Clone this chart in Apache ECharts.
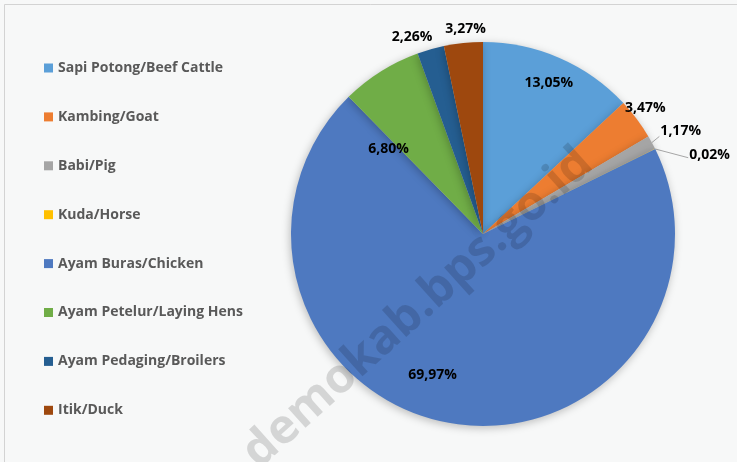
<!DOCTYPE html>
<html>
<head>
<meta charset="utf-8">
<script src="https://cdn.jsdelivr.net/npm/echarts@6/dist/echarts.min.js"></script>
<style>
html,body{margin:0;padding:0;background:#f7f8f8;}
#main{width:737px;height:462px;}
</style>
</head>
<body>
<div id="main"></div>
<script>
// ---- data ----
var categories = [
  'Sapi Potong/Beef Cattle',
  'Kambing/Goat',
  'Babi/Pig',
  'Kuda/Horse',
  'Ayam Buras/Chicken',
  'Ayam Petelur/Laying Hens',
  'Ayam Pedaging/Broilers',
  'Itik/Duck'
];
var shares = [13.05, 3.47, 1.17, 0.02, 69.97, 6.80, 2.26, 3.27];

// ---- style ----
var colors = ['#5b9fd8', '#ed7d31', '#a5a5a5', '#ffc000', '#4e79c0', '#70ad47', '#255e91', '#9e480e'];
// label placement: distance factor (of radius) and angular nudge (deg, clockwise)
var labelDist = [0.86, 1.07, 1.16, 1.25, 0.78, 0.66, 1.09, 1.07];
var labelNudge = [0, -1, 1, 7, 10, -16, -4, 1];
var showLeader = [false, false, true, true, false, false, false, false];

var chart = echarts.init(document.getElementById('main'));

function fmt(v) { return v.toFixed(2).replace('.', ',') + '%'; }

var pieData = categories.map(function (n, i) {
  return {
    name: n,
    value: shares[i],
    itemStyle: { color: colors[i] },
    labelLine: { show: showLeader[i] }
  };
});

var option = {
  backgroundColor: '#f7f8f8',
  animation: false,
  legend: {
    orient: 'vertical',
    left: 39,
    top: 55,
    icon: 'rect',
    itemWidth: 9,
    itemHeight: 9,
    itemGap: 32.9,
    textStyle: {
      fontFamily: 'Open Sans',
      fontWeight: 'bold',
      fontSize: 14,
      color: '#595959',
      lineHeight: 16
    },
    data: categories
  },
  graphic: [
    {
      type: 'polyline',
      silent: true,
      shape: { points: [[4.5, 462], [4.5, 4.5], [737, 4.5]] },
      style: { stroke: '#d3d3d3', lineWidth: 1, fill: null },
      z: 0
    },
    {
      type: 'text',
      silent: true,
      x: 418,
      y: 308,
      rotation: 42 * Math.PI / 180,
      style: {
        text: 'demokab.bps.go.id',
        font: 'bold 48px "Open Sans"',
        fill: 'rgba(0,0,0,0.14)',
        textAlign: 'center',
        textVerticalAlign: 'middle'
      },
      z: 100
    }
  ],
  series: [{
    type: 'pie',
    center: [483, 234],
    radius: 192,
    startAngle: 90,
    clockwise: true,
    avoidLabelOverlap: false,
    itemStyle: {
      borderWidth: 0,
      shadowBlur: 8,
      shadowColor: 'rgba(0,0,0,0.25)',
      shadowOffsetX: -1,
      shadowOffsetY: 2
    },
    emphasis: { disabled: true },
    label: {
      show: true,
      position: 'outside',
      formatter: function (p) { return fmt(p.value); },
      fontFamily: 'Open Sans',
      fontWeight: 'bold',
      fontSize: 14,
      color: '#000000'
    },
    labelLine: {
      length: 8,
      length2: 8,
      lineStyle: { color: '#a6a6a6', width: 1 }
    },
    labelLayout: function (p) {
      var i = p.dataIndex;
      var L = null;
      try {
        L = chart.getModel().getSeriesByIndex(0).getData().getItemLayout(i);
      } catch (e) { L = null; }
      if (!L) return {};
      var mid = (L.startAngle + L.endAngle) / 2;
      var a = mid + labelNudge[i] * Math.PI / 180;
      var d = labelDist[i] * L.r;
      var x = L.cx + Math.cos(a) * d;
      var y = L.cy + Math.sin(a) * d;
      var res = { x: x, y: y, align: 'center', verticalAlign: 'middle' };
      if (showLeader[i]) {
        var ex = L.cx + Math.cos(mid) * L.r;
        var ey = L.cy + Math.sin(mid) * L.r;
        var hw = p.labelRect.width / 2;
        var tx = x - hw - 1;
        var ty = y + (i === 3 ? 3 : 5);
        res.labelLinePoints = [[ex, ey], [tx, ty]];
      }
      return res;
    },
    data: pieData
  }]
};
chart.setOption(option);
</script>
</body>
</html>
